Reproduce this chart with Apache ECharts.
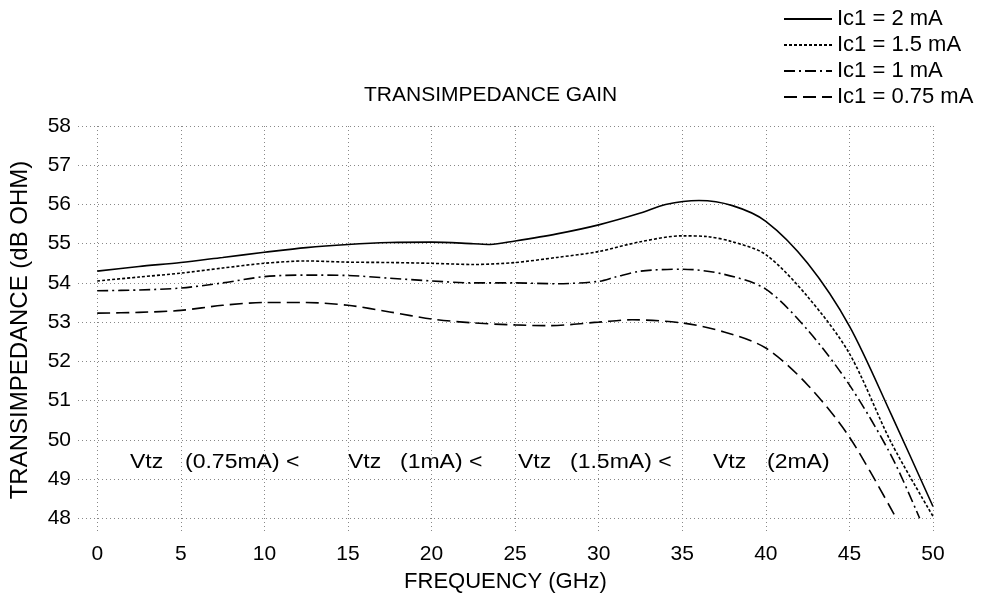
<!DOCTYPE html>
<html>
<head>
<meta charset="utf-8">
<script src="https://cdn.jsdelivr.net/npm/echarts@6/dist/echarts.min.js"></script>
<style>
  html, body { margin: 0; padding: 0; background: #fff; }
  #chart { width: 984px; height: 602px; }
</style>
</head>
<body>
<div id="chart"></div>
<script>
// tick labels
var xTicks = [0, 5, 10, 15, 20, 25, 30, 35, 40, 45, 50];
var yTicks = [48, 49, 50, 51, 52, 53, 54, 55, 56, 57, 58];

var seriesNames = ['Ic1 = 2 mA', 'Ic1 = 1.5 mA', 'Ic1 = 1 mA', 'Ic1 = 0.75 mA'];

// Ic1 = 2 mA
var freq2 = [0, 2.5, 5, 7.5, 10, 12.5, 15, 17.5, 20, 22.5, 23.5, 25, 27.5, 30, 32.5, 34, 36, 38, 40, 42.5, 45, 47.5, 50];
var gain2 = [54.3, 54.42, 54.52, 54.65, 54.78, 54.9, 54.98, 55.03, 55.04, 55.0, 54.98, 55.07, 55.25, 55.48, 55.78, 56.0, 56.1, 55.97, 55.57, 54.5, 52.9, 50.65, 48.3];

// Ic1 = 1.5 mA
var freq15 = [0, 2.5, 5, 7.5, 10, 12.5, 15, 17.5, 20, 22.5, 25, 27.5, 30, 32.5, 35, 36.5, 38, 40, 42.5, 45, 47.5, 50];
var gain15 = [54.05, 54.15, 54.25, 54.38, 54.5, 54.56, 54.53, 54.52, 54.5, 54.47, 54.52, 54.65, 54.8, 55.05, 55.2, 55.18, 55.05, 54.72, 53.65, 52.2, 49.93, 48.05];

// Ic1 = 1 mA
var freq1 = [0, 2.5, 5, 7.5, 10, 12.5, 15, 17.5, 20, 22.5, 25, 27.5, 30, 31, 32.5, 35, 37.5, 40, 42.5, 45, 47.5, 49.2];
var gain1 = [53.8, 53.82, 53.87, 54.0, 54.16, 54.2, 54.19, 54.12, 54.05, 54.0, 54.0, 53.98, 54.04, 54.15, 54.3, 54.35, 54.22, 53.84, 52.8, 51.4, 49.6, 48.0];

// Ic1 = 0.75 mA
var freq075 = [0, 2.5, 5, 7.5, 10, 12.5, 15, 17.5, 20, 22.5, 25, 27, 30, 32, 35, 37.5, 40, 42.5, 45, 47.8];
var gain075 = [53.23, 53.25, 53.3, 53.43, 53.5, 53.5, 53.43, 53.26, 53.08, 52.98, 52.93, 52.91, 53.0, 53.06, 52.98, 52.75, 52.34, 51.4, 50.07, 48.0];

// annotation text pieces
var notes = [
    ['Vtz', '(0.75mA) <'],
    ['Vtz', '(1mA) <'],
    ['Vtz', '(1.5mA) <'],
    ['Vtz', '(2mA)']
];

function pairs(xs, ys) {
    return xs.map(function (x, i) { return [x, ys[i]]; });
}

var font = 'Liberation Sans, Arial, sans-serif';
var chart = echarts.init(document.getElementById('chart'));

var dashes = ['solid', [3, 2], [11, 4, 2, 4], [13, 6]];
var freqs = [freq2, freq15, freq1, freq075];
var gains = [gain2, gain15, gain1, gain075];

var series = seriesNames.map(function (name, i) {
    return {
        name: name,
        type: 'line',
        data: pairs(freqs[i], gains[i]),
        smooth: 0.3,
        symbol: 'none',
        clip: true,
        lineStyle: { color: '#000', width: 1.6, type: dashes[i] },
        itemStyle: { color: '#000' }
    };
});

var notePos = [[130, 185], [348, 400], [518, 570], [713, 767]];
var graphics = [];
notes.forEach(function (n, i) {
    graphics.push({ type: 'text', left: notePos[i][0], top: 452, scaleX: 1.15,
        style: { text: n[0], font: '20px ' + font, fill: '#000' } });
    graphics.push({ type: 'text', left: notePos[i][1], top: 452, scaleX: 1.15,
        style: { text: n[1], font: '20px ' + font, fill: '#000' } });
});

var option = {
    animation: false,
    backgroundColor: '#fff',
    title: {
        text: 'TRANSIMPEDANCE GAIN',
        left: 359,
        top: 80,
        textStyle: { fontFamily: font, fontSize: 21, fontWeight: 'normal', color: '#000' }
    },
    legend: {
        data: seriesNames,
        orient: 'vertical',
        left: 778,
        top: 3,
        itemWidth: 48,
        itemHeight: 14,
        itemGap: 4,
        itemStyle: { opacity: 0 },
        textStyle: { fontFamily: font, fontSize: 22, color: '#000', lineHeight: 21 }
    },
    grid: {
        left: 77,
        right: 51,
        top: 126,
        bottom: 68
    },
    xAxis: {
        type: 'value',
        min: -1.15,
        max: 50,
        name: 'FREQUENCY (GHz)',
        nameLocation: 'middle',
        nameGap: 37,
        nameTextStyle: { fontFamily: font, fontSize: 22, color: '#000' },
        axisLine: { show: false },
        axisTick: { show: false, customValues: xTicks },
        axisLabel: { customValues: xTicks, fontFamily: font, fontSize: 21, color: '#000', margin: 10 },
        splitLine: { show: true, lineStyle: { color: '#888', type: [1, 3], width: 1 } }
    },
    yAxis: {
        type: 'value',
        min: 47.6,
        max: 58,
        name: 'TRANSIMPEDANCE (dB OHM)',
        nameLocation: 'middle',
        nameGap: 46,
        nameTextStyle: { fontFamily: font, fontSize: 24, color: '#000' },
        axisLine: { show: false },
        axisTick: { show: false, customValues: yTicks },
        axisLabel: { customValues: yTicks, fontFamily: font, fontSize: 21, color: '#000', margin: 7 },
        splitLine: { show: true, lineStyle: { color: '#888', type: [1, 3], width: 1 } }
    },
    graphic: graphics,
    series: series
};

chart.setOption(option);
</script>
</body>
</html>
